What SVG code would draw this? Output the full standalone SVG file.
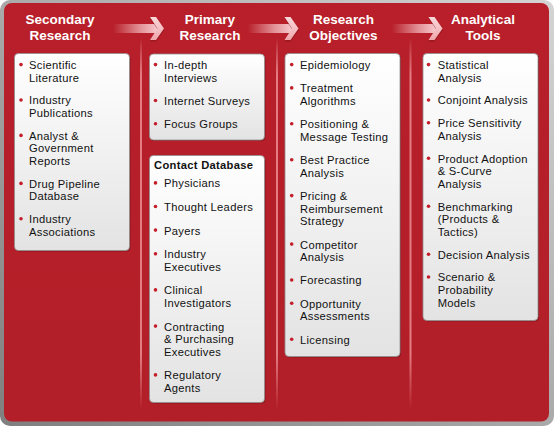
<svg xmlns="http://www.w3.org/2000/svg" xmlns:xlink="http://www.w3.org/1999/xlink" width="555" height="426" viewBox="0 0 555 426">
<defs>
<linearGradient id="frame" x1="1" y1="0" x2="0" y2="1">
<stop offset="0" stop-color="#d4d4d4"/>
<stop offset="1" stop-color="#7f7f7f"/>
</linearGradient>
<linearGradient id="red" x1="0" y1="0" x2="0" y2="1">
<stop offset="0" stop-color="#b81f2a"/>
<stop offset="1" stop-color="#b21f28"/>
</linearGradient>
<linearGradient id="box" x1="0" y1="0" x2="0" y2="1">
<stop offset="0" stop-color="#ffffff"/>
<stop offset="1" stop-color="#e3e3e3"/>
</linearGradient>
<linearGradient id="shaft" x1="0" y1="0" x2="1" y2="0">
<stop offset="0" stop-color="#f5c2c5" stop-opacity="0"/>
<stop offset="0.6" stop-color="#f5c2c5" stop-opacity="0.7"/>
<stop offset="1" stop-color="#f7cdd0" stop-opacity="1"/>
</linearGradient>
<linearGradient id="head" x1="0" y1="0" x2="0" y2="1">
<stop offset="0" stop-color="#fbd9db"/>
<stop offset="1" stop-color="#eea7ab"/>
</linearGradient>
<linearGradient id="div" x1="0" y1="0" x2="0" y2="1">
<stop offset="0" stop-color="#f2a5a9" stop-opacity="0"/>
<stop offset="0.1" stop-color="#e9878c" stop-opacity="0.9"/>
<stop offset="0.85" stop-color="#e9878c" stop-opacity="0.9"/>
<stop offset="1" stop-color="#e9878c" stop-opacity="0"/>
</linearGradient>
<g id="arrow">
<rect x="113" y="24" width="45" height="9" fill="url(#shaft)"/>
<polygon points="150,18.5 156,18.5 164.5,30 156,41.5 150,41.5 158,30" fill="#8a151d" opacity="0.6"/>
<polygon points="150,17 156,17 164,28.5 156,40 150,40 157.5,28.5" fill="url(#head)"/>
</g>
<style>
.hd{font-family:"Liberation Sans",Arial,sans-serif;font-weight:bold;font-size:13.5px;fill:#ffffff;text-anchor:middle}
.t{font-family:"Liberation Sans",Arial,sans-serif;font-size:11.2px;letter-spacing:0.3px;fill:#111111}
.tb{font-family:"Liberation Sans",Arial,sans-serif;font-size:11.2px;letter-spacing:0.3px;font-weight:bold;fill:#111111}
.bx{fill:url(#box);stroke:#8f8f8f;stroke-width:0.8}
.sh{fill:#6e1016;opacity:0.55}
.b{fill:#c41e2a}
</style>
</defs>
<rect x="0" y="0" width="554" height="426" rx="10" fill="url(#frame)"/>
<rect x="4" y="3" width="545" height="418.5" rx="8" fill="url(#red)"/>
<g id="dividers">
<rect x="140" y="38" width="2" height="372" fill="url(#div)"/>
<rect x="276" y="38" width="2" height="372" fill="url(#div)"/>
<rect x="409.5" y="38" width="2" height="372" fill="url(#div)"/>
</g>
<g id="connectors">
<use xlink:href="#arrow"/>
<use xlink:href="#arrow" transform="translate(134.5,0)"/>
<use xlink:href="#arrow" transform="translate(278.5,0)"/>
</g>
<g id="header-secondary"><text class="hd" x="60" y="23.5">Secondary<tspan x="60" dy="16.5">Research</tspan></text></g>
<g id="header-primary"><text class="hd" x="210" y="23.5">Primary<tspan x="210" dy="16.5">Research</tspan></text></g>
<g id="header-objectives"><text class="hd" x="343.5" y="23.5">Research<tspan x="343.5" dy="16.5">Objectives</tspan></text></g>
<g id="header-tools"><text class="hd" x="483" y="23.5">Analytical<tspan x="483" dy="16.5">Tools</tspan></text></g>

<g id="secondary-research">
<rect class="sh" x="15.5" y="54.5" width="115" height="197" rx="4"/>
<rect class="bx" x="14.5" y="53.5" width="115" height="197" rx="4"/>
<circle class="b" cx="21" cy="64.6" r="1.8"/><text class="t" x="29" y="69">Scientific<tspan x="29" dy="12.6">Literature</tspan></text>
<circle class="b" cx="21" cy="100" r="1.8"/><text class="t" x="29" y="104.4">Industry<tspan x="29" dy="12.6">Publications</tspan></text>
<circle class="b" cx="21" cy="135.4" r="1.8"/><text class="t" x="29" y="139.8">Analyst &amp;<tspan x="29" dy="12.6">Government</tspan><tspan x="29" dy="12.6">Reports</tspan></text>
<circle class="b" cx="21" cy="183.4" r="1.8"/><text class="t" x="29" y="187.8">Drug Pipeline<tspan x="29" dy="12.6">Database</tspan></text>
<circle class="b" cx="21" cy="218.8" r="1.8"/><text class="t" x="29" y="223.2">Industry<tspan x="29" dy="12.6">Associations</tspan></text>
</g>

<g id="primary-research">
<rect class="sh" x="150.5" y="55" width="115" height="86" rx="4"/>
<rect class="bx" x="149.5" y="54" width="115" height="86" rx="4"/>
<circle class="b" cx="155.5" cy="64.6" r="1.8"/><text class="t" x="164" y="69">In-depth<tspan x="164" dy="12.6">Interviews</tspan></text>
<circle class="b" cx="155.5" cy="100.5" r="1.8"/><text class="t" x="164" y="104.9">Internet Surveys</text>
<circle class="b" cx="155.5" cy="123.8" r="1.8"/><text class="t" x="164" y="128.2">Focus Groups</text>
</g>

<g id="contact-database">
<rect class="sh" x="150.5" y="156.5" width="115" height="247" rx="4"/>
<rect class="bx" x="149.5" y="155.5" width="115" height="247" rx="4"/>
<text class="tb" x="154" y="169.3">Contact Database</text>
<circle class="b" cx="155.5" cy="182.9" r="1.8"/><text class="t" x="164" y="187.3">Physicians</text>
<circle class="b" cx="155.5" cy="206.5" r="1.8"/><text class="t" x="164" y="210.9">Thought Leaders</text>
<circle class="b" cx="155.5" cy="230.1" r="1.8"/><text class="t" x="164" y="234.5">Payers</text>
<circle class="b" cx="155.5" cy="253.7" r="1.8"/><text class="t" x="164" y="258.1">Industry<tspan x="164" dy="12.6">Executives</tspan></text>
<circle class="b" cx="155.5" cy="289.9" r="1.8"/><text class="t" x="164" y="294.3">Clinical<tspan x="164" dy="12.6">Investigators</tspan></text>
<circle class="b" cx="155.5" cy="326.1" r="1.8"/><text class="t" x="164" y="330.5">Contracting<tspan x="164" dy="12.6">&amp; Purchasing</tspan><tspan x="164" dy="12.6">Executives</tspan></text>
<circle class="b" cx="155.5" cy="374.9" r="1.8"/><text class="t" x="164" y="379.3">Regulatory<tspan x="164" dy="12.6">Agents</tspan></text>
</g>

<g id="research-objectives">
<rect class="sh" x="286" y="54.5" width="115" height="303" rx="4"/>
<rect class="bx" x="285" y="53.5" width="115" height="303" rx="4"/>
<circle class="b" cx="291.7" cy="64.6" r="1.8"/><text class="t" x="300" y="69">Epidemiology</text>
<circle class="b" cx="291.7" cy="87.9" r="1.8"/><text class="t" x="300" y="92.3">Treatment<tspan x="300" dy="12.6">Algorithms</tspan></text>
<circle class="b" cx="291.7" cy="123.8" r="1.8"/><text class="t" x="300" y="128.2">Positioning &amp;<tspan x="300" dy="12.6">Message Testing</tspan></text>
<circle class="b" cx="291.7" cy="159.7" r="1.8"/><text class="t" x="300" y="164.1">Best Practice<tspan x="300" dy="12.6">Analysis</tspan></text>
<circle class="b" cx="291.7" cy="195.6" r="1.8"/><text class="t" x="300" y="200">Pricing &amp;<tspan x="300" dy="12.6">Reimbursement</tspan><tspan x="300" dy="12.6">Strategy</tspan></text>
<circle class="b" cx="291.7" cy="244.1" r="1.8"/><text class="t" x="300" y="248.5">Competitor<tspan x="300" dy="12.6">Analysis</tspan></text>
<circle class="b" cx="291.7" cy="280" r="1.8"/><text class="t" x="300" y="284.4">Forecasting</text>
<circle class="b" cx="291.7" cy="303.3" r="1.8"/><text class="t" x="300" y="307.7">Opportunity<tspan x="300" dy="12.6">Assessments</tspan></text>
<circle class="b" cx="291.7" cy="339.2" r="1.8"/><text class="t" x="300" y="343.6">Licensing</text>
</g>

<g id="analytical-tools">
<rect class="sh" x="424" y="54.5" width="115" height="267" rx="4"/>
<rect class="bx" x="423" y="53.5" width="115" height="267" rx="4"/>
<circle class="b" cx="428.5" cy="64.6" r="1.8"/><text class="t" x="437.7" y="69">Statistical<tspan x="437.7" dy="12.6">Analysis</tspan></text>
<circle class="b" cx="428.5" cy="100" r="1.8"/><text class="t" x="437.7" y="104.4">Conjoint Analysis</text>
<circle class="b" cx="428.5" cy="122.8" r="1.8"/><text class="t" x="437.7" y="127.2">Price Sensitivity<tspan x="437.7" dy="12.6">Analysis</tspan></text>
<circle class="b" cx="428.5" cy="158.2" r="1.8"/><text class="t" x="437.7" y="162.6">Product Adoption<tspan x="437.7" dy="12.6">&amp; S-Curve</tspan><tspan x="437.7" dy="12.6">Analysis</tspan></text>
<circle class="b" cx="428.5" cy="206.2" r="1.8"/><text class="t" x="437.7" y="210.6">Benchmarking<tspan x="437.7" dy="12.6">(Products &amp;</tspan><tspan x="437.7" dy="12.6">Tactics)</tspan></text>
<circle class="b" cx="428.5" cy="254.2" r="1.8"/><text class="t" x="437.7" y="258.6">Decision Analysis</text>
<circle class="b" cx="428.5" cy="277" r="1.8"/><text class="t" x="437.7" y="281.4">Scenario &amp;<tspan x="437.7" dy="12.6">Probability</tspan><tspan x="437.7" dy="12.6">Models</tspan></text>
</g>
</svg>
